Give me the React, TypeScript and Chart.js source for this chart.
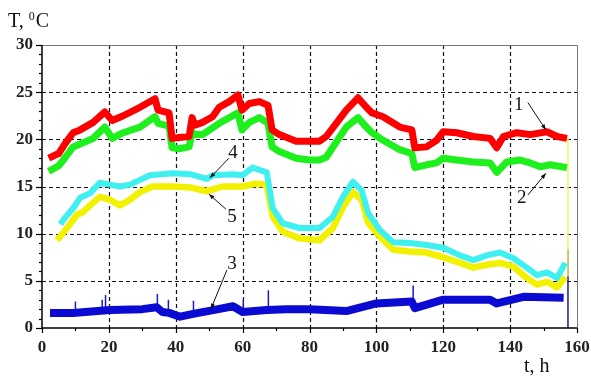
import React, { useEffect, useRef } from "react";
import { Chart, registerables } from "chart.js";
Chart.register(...registerables);

// Curve 1 (red)
const tRed = [2,5,7,9.3,11.4,15.3,18.8,21,24.3,29.3,33.8,34.7,36.8,38,38.9,41,44,44.9,45.7,48,51,53,56,58.6,59.8,62,65,67.6,68.8,71,76,80,83,85,88,91,94.5,97,98.7,102,107,110.6,111.5,115,118,120,124,129,134,136,138,142,146,151,154,157];
const vRed = [18.0,18.5,19.6,20.7,21.0,21.8,22.9,22.0,22.5,23.4,24.3,23.1,22.9,22.8,20.1,20.2,20.3,22.3,21.5,21.8,22.4,23.4,24.0,24.7,23.1,23.8,24.0,23.6,21.0,20.5,19.8,19.8,19.8,20.3,21.7,23.1,24.4,23.4,22.8,22.4,21.3,21.0,19.1,19.2,19.9,20.8,20.7,20.3,20.1,19.1,20.3,20.7,20.5,20.8,20.3,20.1];
// Curve 2 (green)
const tGreen = [2,5,7,9.3,11.4,15.3,18.8,21,24.3,29.3,33.8,34.7,36.8,38,38.9,41,44,44.9,45.7,48,53,58.6,59.8,62,65,67.6,68.8,71,76,80,83,85,88,91,94.5,97,98.7,102,107,110.6,111.5,115,118,120,124,129,134,136,139,143,146,149,152,157];
const vGreen = [16.6,17.2,18.1,19.2,19.5,20.1,21.3,20.1,20.7,21.3,22.4,21.7,21.5,21.4,19.1,19.0,19.2,20.8,20.5,20.5,21.7,22.8,21.0,21.8,22.3,21.7,19.2,18.7,18.0,17.8,17.8,18.1,19.7,21.3,22.3,21.3,20.7,19.9,18.9,18.5,17.0,17.3,17.5,18.0,17.8,17.6,17.5,16.5,17.6,17.8,17.5,17.1,17.3,17.0];
// Curve 4 (cyan)
const tCyan = [5.5,6.9,9.3,11.4,14.4,17.3,20.3,23.3,26.3,29.3,32.3,39.2,44.3,49.3,51.2,57,60,63,67.2,69,72,77,83,87,90,93,95.6,97.5,101,105,110,115,120,125,129,133,137,141,145,148,151,154,156.5];
const vCyan = [11.0,11.7,12.7,13.8,14.3,15.4,15.2,15.0,15.2,15.7,16.2,16.4,16.3,15.8,16.2,16.3,16.2,17.0,16.5,12.7,11.1,10.6,10.6,11.8,13.9,15.5,14.6,12.2,10.4,9.1,9.0,8.8,8.5,7.7,7.2,7.7,8.0,7.4,6.4,5.6,5.9,5.3,6.9];
// Curve 5 (yellow)
const tYellow = [4.5,7.5,10.5,12.3,14.4,17.3,20.3,23.3,26.3,29.3,33,39.2,44.3,49.3,54,60,64,67.2,69,72,77,83,87,90,93,95.6,97.5,101,105,110,115,120,125,129,133,137,141,145,148,151,154,156.5];
const vYellow = [9.3,10.6,12.0,12.3,13.0,13.9,13.6,13.0,13.6,14.4,15.0,15.0,14.9,14.5,15.0,15.0,15.3,15.2,11.8,10.2,9.5,9.3,10.6,12.8,14.4,13.6,11.2,9.7,8.3,8.1,8.0,7.5,6.9,6.4,6.7,6.9,6.5,5.3,4.6,4.9,4.3,5.4];
// Curve 3 (blue)
const tBlue = [2.4,9.3,20.3,30,34.3,36,38,41.3,45.2,51.2,57.1,60,67.2,73,80,91,100,110.6,111.5,120,134,136,144,156];
const vBlue = [1.6,1.6,1.9,2.0,2.2,1.7,1.6,1.2,1.5,1.9,2.3,1.7,1.9,2.0,2.0,1.8,2.6,2.8,2.1,3.0,3.0,2.6,3.3,3.2];
// Blue spikes (time, base, top)
const spikeT = [10,18,19,34.5,37.8,45.3,60.2,67.7,111];
const spikeBase = [1.6,1.8,1.8,2.1,1.8,1.5,1.8,2.0,2.5];
const spikeTop = [2.8,3.0,3.5,3.6,3.0,2.9,3.0,4.0,4.5];
// End-of-record vertical traces
const endT = [157.3];
const endYellowTop = [20.2];
const endYellowBottom = [5.5];
const endBlueTop = [8.3];
const endBlueBottom = [0];

const xTicks = [0,20,40,60,80,100,120,140,160];
const yTicks = [0,5,10,15,20,25,30];

// Curve labels: [label, labelT, labelV, arrowFromT, arrowFromV, arrowToT, arrowToV]
const curveLabels: [string, number, number, number, number, number, number][] = [
  ["1", 142.6, 23.6, 145.3, 23.9, 150.7, 21.0],
  ["2", 143.5, 13.8, 145.3, 14.1, 150.7, 16.4],
  ["3", 56.8, 6.8, 55.3, 6.15, 50.5, 2.0],
  ["4", 57.1, 18.6, 55.9, 18.0, 50.2, 15.9],
  ["5", 56.8, 11.8, 55.0, 12.6, 49.9, 14.2],
];

const pts = (t: number[], v: number[]) => t.map((x, i) => ({ x, y: v[i] }));

const spikePts: any[] = [];
spikeT.forEach((t, i) => {
  spikePts.push({ x: t, y: spikeBase[i] }, { x: t, y: spikeTop[i] }, { x: t, y: null });
});

const SERIF = "'Liberation Serif', 'Times New Roman', serif";

const framePlugin = {
  id: "frame",
  beforeDatasetsDraw(chart: any) {
    const { ctx, chartArea: a, scales } = chart;
    const xs = scales.x, ys = scales.y;
    ctx.save();
    ctx.strokeStyle = "#111";
    ctx.lineWidth = 1.2;
    ctx.setLineDash([4, 3]);
    xTicks.forEach((t) => {
      if (t === 0 || t === 160) return;
      const px = Math.round(xs.getPixelForValue(t)) + 0.5;
      ctx.beginPath(); ctx.moveTo(px, a.top); ctx.lineTo(px, a.bottom); ctx.stroke();
    });
    yTicks.forEach((v) => {
      if (v === 0 || v === 30) return;
      const py = Math.round(ys.getPixelForValue(v)) + 0.5;
      ctx.beginPath(); ctx.moveTo(a.left, py); ctx.lineTo(a.right, py); ctx.stroke();
    });
    ctx.restore();
  },
  afterDatasetsDraw(chart: any) {
    const { ctx, chartArea: a, scales } = chart;
    const xs = scales.x, ys = scales.y;
    ctx.save();
    ctx.setLineDash([]);
    ctx.strokeStyle = "#777";
    ctx.lineWidth = 1;
    ctx.beginPath();
    ctx.moveTo(a.left, a.top + 0.5); ctx.lineTo(a.right + 0.5, a.top + 0.5); ctx.lineTo(a.right + 0.5, a.bottom);
    ctx.stroke();
    ctx.strokeStyle = "#000";
    ctx.lineWidth = 1.5;
    ctx.beginPath();
    ctx.moveTo(a.left, a.top); ctx.lineTo(a.left, a.bottom); ctx.lineTo(a.right, a.bottom);
    ctx.stroke();
    ctx.lineWidth = 1.2;
    for (let v = 0; v <= 30; v++) {
      const py = Math.round(ys.getPixelForValue(v)) + 0.5;
      const len = v % 5 === 0 ? 6 : 3;
      ctx.beginPath(); ctx.moveTo(a.left - len, py); ctx.lineTo(a.left, py); ctx.stroke();
    }
    for (let t = 0; t <= 160; t += 10) {
      const px = Math.round(xs.getPixelForValue(t)) + 0.5;
      const len = t % 20 === 0 ? 5 : 3;
      ctx.beginPath(); ctx.moveTo(px, a.bottom); ctx.lineTo(px, a.bottom + len); ctx.stroke();
    }
    ctx.fillStyle = "#111";
    ctx.textBaseline = "alphabetic";
    ctx.textAlign = "left";
    ctx.font = `20px ${SERIF}`;
    ctx.fillText("T, ", 8, 27);
    const w1 = ctx.measureText("T, ").width;
    ctx.font = `12px ${SERIF}`;
    ctx.fillText("0", 8 + w1, 20);
    const w2 = ctx.measureText("0").width;
    ctx.font = `20px ${SERIF}`;
    ctx.fillText("C", 8 + w1 + w2 + 1, 27);
    ctx.fillText("t, h", 524, 372);
    ctx.font = `19px ${SERIF}`;
    ctx.textAlign = "center";
    ctx.textBaseline = "middle";
    ctx.strokeStyle = "#111";
    ctx.lineWidth = 1;
    curveLabels.forEach(([lab, lt, lv, ft, fv, tt, tv]) => {
      ctx.fillStyle = "#111";
      ctx.fillText(lab, xs.getPixelForValue(lt), ys.getPixelForValue(lv));
      const x1 = xs.getPixelForValue(ft), y1 = ys.getPixelForValue(fv);
      const x2 = xs.getPixelForValue(tt), y2 = ys.getPixelForValue(tv);
      ctx.beginPath(); ctx.moveTo(x1, y1); ctx.lineTo(x2, y2); ctx.stroke();
      const ang = Math.atan2(y2 - y1, x2 - x1);
      const hl = 6, hw = 0.35;
      ctx.beginPath();
      ctx.moveTo(x2, y2);
      ctx.lineTo(x2 - hl * Math.cos(ang - hw), y2 - hl * Math.sin(ang - hw));
      ctx.lineTo(x2 - hl * Math.cos(ang + hw), y2 - hl * Math.sin(ang + hw));
      ctx.closePath();
      ctx.fill();
    });
    ctx.restore();
  },
};

export default function App() {
  const ref = useRef<HTMLCanvasElement>(null);
  useEffect(() => {
    const line = (data: any[], color: string, width: number) => ({
      data, borderColor: color, backgroundColor: color, borderWidth: width,
      pointRadius: 0, tension: 0, fill: false, spanGaps: false,
      borderJoinStyle: "round", borderCapStyle: "butt",
    });
    const chart = new Chart(ref.current!, {
      type: "line",
      data: {
        datasets: [
          line(pts(tBlue, vBlue), "#0a0ad2", 8),
          line(spikePts, "#1a1ad0", 1.5),
          line(pts(tRed, vRed), "#ff0000", 7),
          line(pts(tGreen, vGreen), "#1ef01e", 7),
          line(pts(tCyan, vCyan), "#3ef0f0", 6),
          line(pts(tYellow, vYellow), "#f2f200", 6.5),
          line([{ x: endT[0], y: endYellowTop[0] }, { x: endT[0], y: endYellowBottom[0] }], "#f2f25a", 1.5),
          line([{ x: endT[0], y: endBlueTop[0] }, { x: endT[0], y: endBlueBottom[0] }], "#1a1a90", 1.5),
        ] as any,
      },
      options: {
        responsive: false,
        animation: false,
        layout: { padding: { left: 0, top: 45, right: 14, bottom: 0 } },
        plugins: { legend: { display: false }, tooltip: { enabled: false } },
        scales: {
          x: {
            type: "linear", min: 0, max: 160,
            afterBuildTicks: (s: any) => { s.ticks = xTicks.map((v) => ({ value: v })); },
            afterFit: (s: any) => { s.height = 51; s.paddingLeft = 0; s.paddingRight = 0; },
            grid: { display: false, drawTicks: false },
            border: { display: false },
            ticks: { color: "#222", padding: 9, maxRotation: 0, font: { family: SERIF, size: 17, weight: "bold" } },
          },
          y: {
            type: "linear", min: 0, max: 30,
            afterBuildTicks: (s: any) => { s.ticks = yTicks.map((v) => ({ value: v })); },
            afterFit: (s: any) => { s.width = 42; s.paddingTop = 0; s.paddingBottom = 0; },
            grid: { display: false, drawTicks: false },
            border: { display: false },
            ticks: { color: "#222", padding: 9, font: { family: SERIF, size: 17, weight: "bold" } },
          },
        },
      },
      plugins: [framePlugin],
    } as any);
    return () => chart.destroy();
  }, []);
  return (
    <div style={{ position: "absolute", left: 0, top: 0, width: 591, height: 379, background: "#fff" }}>
      <canvas ref={ref} width={591} height={379} />
    </div>
  );
}
